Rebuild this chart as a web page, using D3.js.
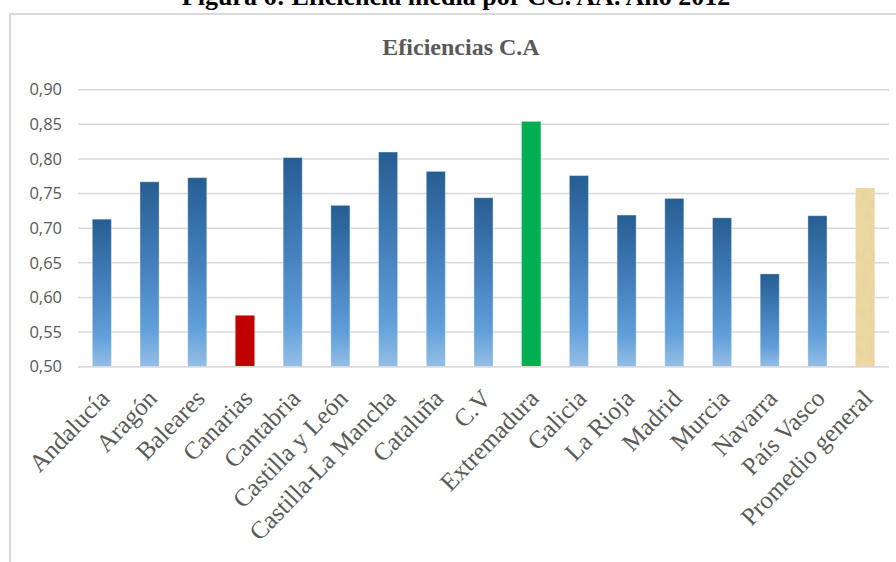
<!DOCTYPE html>
<html>
<head>
<meta charset="utf-8">
<script src="https://cdn.jsdelivr.net/npm/d3@7"></script>
<style>
  html, body { margin: 0; padding: 0; background: #fff; }
  svg { display: block; }
</style>
</head>
<body>
<svg id="chart" width="896" height="562"></svg>
<script>
// Data
const regiones = ["Andalucía", "Aragón", "Baleares", "Canarias", "Cantabria", "Castilla y León",
  "Castilla-La Mancha", "Cataluña", "C.V", "Extremadura", "Galicia", "La Rioja", "Madrid",
  "Murcia", "Navarra", "País Vasco", "Promedio general"];
const eficiencias = [0.713, 0.767, 0.773, 0.574, 0.802, 0.733, 0.810, 0.782, 0.744, 0.854,
  0.776, 0.719, 0.743, 0.715, 0.634, 0.718, 0.758];
const yTicks = [0.50, 0.55, 0.60, 0.65, 0.70, 0.75, 0.80, 0.85, 0.90];

const svg = d3.select("#chart");
const grey = "#595959";
const gridColor = "#d9d9d9";

// defs: gradiente azul y textura del promedio
const defs = svg.append("defs");
const grad = defs.append("linearGradient")
  .attr("id", "azul")
  .attr("x1", 0).attr("y1", 0).attr("x2", 0).attr("y2", 1);
[["0%", "#255e91"], ["45%", "#4580bd"], ["80%", "#62a0da"], ["100%", "#95bee6"]]
  .forEach(s => grad.append("stop").attr("offset", s[0]).attr("stop-color", s[1]));

const paper = defs.append("filter").attr("id", "papel")
  .attr("x", 0).attr("y", 0).attr("width", 1).attr("height", 1);
paper.append("feTurbulence")
  .attr("type", "fractalNoise")
  .attr("baseFrequency", "0.3 0.1")
  .attr("numOctaves", 2)
  .attr("seed", 3)
  .attr("result", "ruido");
paper.append("feColorMatrix")
  .attr("in", "ruido")
  .attr("type", "matrix")
  .attr("values", "0 0 0 0 0.78  0 0 0 0 0.64  0 0 0 0 0.38  0 0 0 1.6 -0.6")
  .attr("result", "manchas");
paper.append("feComposite")
  .attr("in", "manchas").attr("in2", "SourceGraphic")
  .attr("operator", "in").attr("result", "m");
const merge = paper.append("feMerge");
merge.append("feMergeNode").attr("in", "SourceGraphic");
merge.append("feMergeNode").attr("in", "m");

// Figure caption (cut at top, as in the page it was taken from)
svg.append("text")
  .attr("x", 456).attr("y", 5)
  .attr("text-anchor", "middle")
  .style("font-family", "'Liberation Serif', 'Times New Roman', serif")
  .style("font-weight", "bold")
  .style("font-size", "26px")
  .attr("fill", "#000")
  .text("Figura 6: Eficiencia media por CC. AA. Año 2012");

// Chart frame
svg.append("rect")
  .attr("x", 10).attr("y", 14)
  .attr("width", 910).attr("height", 600)
  .attr("fill", "none")
  .attr("stroke", gridColor)
  .attr("stroke-width", 2);

// Title
svg.append("text")
  .attr("x", 461).attr("y", 55)
  .attr("text-anchor", "middle")
  .style("font-family", "'Liberation Serif', 'Times New Roman', serif")
  .style("font-weight", "bold")
  .style("font-size", "24px")
  .attr("fill", grey)
  .text("Eficiencias C.A");

// Scales
const x = d3.scaleBand()
  .domain(regiones)
  .range([78, 889])
  .paddingInner(0.6)
  .paddingOuter(0.3);

const y = d3.scaleLinear()
  .domain([0.5, 0.9])
  .range([366.7, 89.7]);

// Gridlines
svg.append("g")
  .selectAll("line")
  .data(yTicks)
  .enter()
  .append("line")
  .attr("x1", 78).attr("x2", 889)
  .attr("y1", d => y(d)).attr("y2", d => y(d))
  .attr("stroke", gridColor)
  .attr("stroke-width", 1.5);

// Y axis labels
const yAxis = svg.append("g")
  .attr("transform", "translate(62,0)")
  .call(d3.axisLeft(y).tickValues(yTicks).tickSize(0).tickPadding(0)
    .tickFormat(d => d3.format(".2f")(d).replace(".", ",")));
yAxis.select(".domain").remove();
yAxis.selectAll("text")
  .style("font-family", "'Open Sans', sans-serif")
  .style("font-size", "16.5px")
  .attr("fill", grey);

// Bars
const colorDe = (d) => {
  if (d === "Canarias") return "#c00000";
  if (d === "Extremadura") return "#00b050";
  if (d === "Promedio general") return "#edd8a0";
  return "url(#azul)";
};

svg.append("g")
  .selectAll("rect")
  .data(regiones)
  .enter()
  .append("rect")
  .attr("x", d => x(d))
  .attr("width", x.bandwidth())
  .attr("y", (d, i) => y(eficiencias[i]))
  .attr("height", (d, i) => y(0.5) - y(eficiencias[i]))
  .attr("fill", colorDe)
  .attr("stroke", (d) => colorDe(d) === "url(#azul)" ? "rgba(255,255,255,0.35)" : "none")
  .attr("stroke-width", 1)
  .attr("filter", d => d === "Promedio general" ? "url(#papel)" : null);

// Category axis line
svg.append("line")
  .attr("x1", 78).attr("x2", 889)
  .attr("y1", y(0.5)).attr("y2", y(0.5))
  .attr("stroke", gridColor)
  .attr("stroke-width", 1.5);

// Category labels, rotated
svg.append("g")
  .selectAll("text")
  .data(regiones)
  .enter()
  .append("text")
  .attr("transform", d => `translate(${x(d) + x.bandwidth() / 2 + 9},${y(0.5) + 33}) rotate(-46)`)
  .attr("text-anchor", "end")
  .style("font-family", "'Liberation Serif', 'Times New Roman', serif")
  .style("font-size", "25px")
  .attr("fill", grey)
  .text(d => d);
</script>
</body>
</html>
